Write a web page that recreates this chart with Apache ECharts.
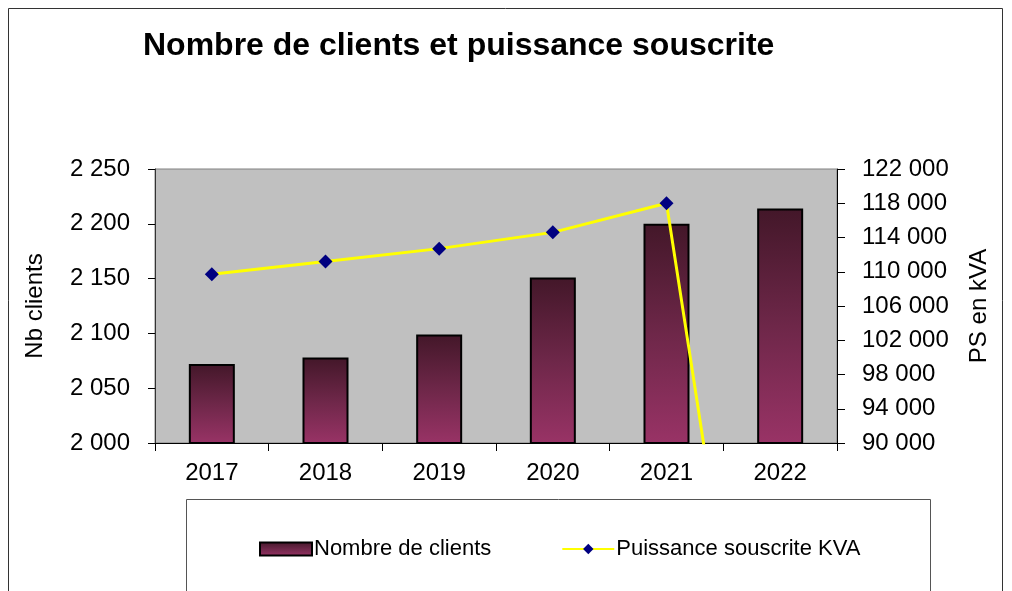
<!DOCTYPE html>
<html>
<head>
<meta charset="utf-8">
<script src="https://cdn.jsdelivr.net/npm/echarts@6/dist/echarts.min.js"></script>
<style>
  html, body { margin: 0; padding: 0; background: #fff; }
  #chart { width: 1012px; height: 591px; }
</style>
</head>
<body>
<div id="chart"></div>
<script>
// données
var years = ['2017', '2018', '2019', '2020', '2021', '2022'];
var nbClients = [2072, 2078, 2099, 2151, 2200, 2214];
var puissanceKVA = [109700, 111200, 112700, 114600, 118000, 32000];

// "2 250", "122 000"
function espaceMilliers(v) {
  return String(v).replace(/\B(?=(\d{3})+(?!\d))/g, ' ');
}

var police = 'Arial, "Liberation Sans", sans-serif';

var chart = echarts.init(document.getElementById('chart'));
var option = {
  animation: false,
  textStyle: { fontFamily: police, color: '#000' },
  title: {
    text: 'Nombre de clients et puissance souscrite',
    left: 138,
    top: 25,
    textStyle: { fontSize: 32, fontWeight: 'bold', color: '#000', fontFamily: police }
  },
  graphic: [
    {
      type: 'rect', z: 0,
      shape: { x: 8.5, y: 8.5, width: 994, height: 620 },
      style: { fill: null, stroke: '#333', lineWidth: 1 }
    },
    {
      type: 'rect', z: 0,
      shape: { x: 186.5, y: 499.5, width: 744, height: 120 },
      style: { fill: '#fff', stroke: '#555', lineWidth: 1 }
    }
  ],
  legend: {
    z: 10,
    left: 254,
    top: 533,
    itemWidth: 52,
    itemHeight: 13,
    itemGap: 70,
    textStyle: { fontSize: 22, color: '#000', fontFamily: police, padding: [0, 0, 0, -3] },
    data: [
      { name: 'Nombre de clients', icon: 'rect' },
      { name: 'Puissance souscrite KVA' }
    ]
  },
  grid: {
    left: 155,
    right: 175,
    top: 169,
    bottom: 148,
    show: true,
    backgroundColor: '#C0C0C0',
    borderColor: '#808080',
    borderWidth: 1
  },
  xAxis: {
    type: 'category',
    data: years,
    axisLine: { lineStyle: { color: '#000', width: 1 } },
    axisTick: { show: true, length: 8, lineStyle: { color: '#000' } },
    axisLabel: { fontSize: 24, color: '#000', margin: 18 }
  },
  yAxis: [
    {
      type: 'value',
      min: 2000,
      max: 2250,
      interval: 50,
      name: 'Nb clients',
      nameLocation: 'middle',
      nameGap: 108,
      nameTextStyle: { fontSize: 24, color: '#000' },
      axisLine: { show: true, lineStyle: { color: '#333' } },
      axisTick: { show: true, length: 7, lineStyle: { color: '#000' } },
      axisLabel: { fontSize: 24, color: '#000', margin: 25, formatter: espaceMilliers },
      splitLine: { show: false }
    },
    {
      type: 'value',
      min: 90000,
      max: 122000,
      interval: 4000,
      name: 'PS en kVA',
      nameLocation: 'middle',
      nameGap: 130,
      nameRotate: 90,
      nameTextStyle: { fontSize: 24, color: '#000' },
      axisLine: { show: true, lineStyle: { color: '#000' } },
      axisTick: { show: true, length: 8, lineStyle: { color: '#000' } },
      axisLabel: { fontSize: 24, color: '#000', margin: 25, formatter: espaceMilliers },
      splitLine: { show: false }
    }
  ],
  series: [
    {
      name: 'Nombre de clients',
      type: 'bar',
      yAxisIndex: 0,
      barWidth: 46,
      data: nbClients,
      itemStyle: {
        color: new echarts.graphic.LinearGradient(0, 0, 0, 1, [
          { offset: 0, color: '#431729' },
          { offset: 0.5, color: '#6E2749' },
          { offset: 1, color: '#993366' }
        ]),
        borderColor: '#000',
        borderWidth: 2
      }
    },
    {
      name: 'Puissance souscrite KVA',
      type: 'line',
      yAxisIndex: 1,
      data: puissanceKVA,
      clip: true,
      symbol: 'diamond',
      symbolSize: 14,
      lineStyle: { color: '#FFFF00', width: 3 },
      itemStyle: { color: '#000080' },
      z: 5
    }
  ]
};
chart.setOption(option);
</script>
</body>
</html>
